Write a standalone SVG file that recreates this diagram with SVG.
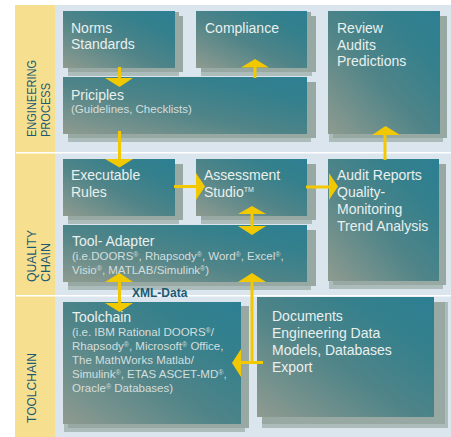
<svg xmlns="http://www.w3.org/2000/svg" width="451" height="437" viewBox="0 0 451 437">
<style>
text{font-family:"Liberation Sans",Arial,sans-serif}
.t{fill:#e9f0ee;font-size:14px}
.s{fill:#d4dedd;font-size:11.5px}
.v{fill:#1c5a72;font-size:12px}
.sh1{fill:#abbcbb}
.sh2{fill:#98a8a2}
.box{fill:url(#g)}
.a{fill:#f2c900}
.l{stroke:#f2c900;stroke-width:3;fill:none}
</style>
<defs>
<linearGradient id="g" x1="0" y1="1" x2="1" y2="0">
<stop offset="0" stop-color="#8f9b90"/>
<stop offset="0.45" stop-color="#4f8488"/>
<stop offset="0.75" stop-color="#35808c"/>
<stop offset="1" stop-color="#2c7f93"/>
</linearGradient>
</defs>
<rect width="451" height="437" fill="#fff"/>
<rect x="15" y="5" width="436" height="432" fill="#dae5ed"/>
<rect x="15" y="5" width="40" height="432" fill="#f6e08f"/>
<rect x="16" y="152" width="435" height="1.5" fill="#fff"/>
<rect x="16" y="295" width="435" height="1.500" fill="#fff"/>
<g id="label-engineering"><text class="v" textLength="77" lengthAdjust="spacingAndGlyphs" transform="translate(35.500,137) rotate(-90)">ENGINEERING</text><text class="v" textLength="54" lengthAdjust="spacingAndGlyphs" transform="translate(50,137) rotate(-90)">PROCESS</text></g>
<g id="label-quality"><text class="v" textLength="52" lengthAdjust="spacingAndGlyphs" transform="translate(35.500,282) rotate(-90)">QUALITY</text><text class="v" textLength="39" lengthAdjust="spacingAndGlyphs" transform="translate(50,282) rotate(-90)">CHAIN</text></g>
<g id="label-toolchain"><text class="v" textLength="70" lengthAdjust="spacingAndGlyphs" transform="translate(35.500,423) rotate(-90)">TOOLCHAIN</text></g>
<g id="norms"><rect class="sh1" x="68" y="16" width="111" height="60"/><rect class="sh2" x="68" y="16" width="115" height="56"/><rect class="sh2" x="175" y="12" width="4" height="5"/><rect class="box" x="63" y="11" width="112" height="57"/><text class="t" x="71" y="33">Norms</text><text class="t" x="71" y="49">Standards</text></g>
<g id="compliance"><rect class="sh1" x="201" y="16" width="111" height="60"/><rect class="sh2" x="201" y="16" width="115" height="56"/><rect class="sh2" x="307" y="12" width="4" height="5"/><rect class="box" x="196" y="11" width="111" height="57"/><text class="t" x="205" y="33">Compliance</text></g>
<g id="principles"><rect class="sh1" x="68" y="82" width="243" height="60"/><rect class="sh2" x="68" y="82" width="248" height="56"/><rect class="box" x="63" y="77" width="244" height="57"/><text class="t" x="71" y="100">Priciples</text><text class="s" x="71" y="113">(Guidelines, Checklists)</text></g>
<g id="review"><rect class="sh1" x="329" y="16" width="114" height="126"/><rect class="sh2" x="333" y="16" width="114" height="122"/><rect class="box" x="328" y="11" width="112" height="123"/><text class="t" x="337" y="33">Review</text><text class="t" x="337" y="50">Audits</text><text class="t" x="337" y="66">Predictions</text></g>
<g id="executable"><rect class="sh1" x="68" y="164" width="111" height="60"/><rect class="sh2" x="68" y="164" width="115" height="56"/><rect class="box" x="63" y="159" width="112" height="57"/><text class="t" x="71" y="180">Executable</text><text class="t" x="71" y="197">Rules</text></g>
<g id="assessment"><rect class="sh1" x="201" y="164" width="111" height="60"/><rect class="sh2" x="201" y="164" width="115" height="56"/><rect class="box" x="196" y="159" width="111" height="57"/><text class="t" x="204" y="180">Assessment</text><text class="t" x="204" y="197">Studio<tspan font-size="7" dy="-5">TM</tspan></text></g>
<g id="audit"><rect class="sh1" x="329" y="164" width="114" height="125"/><rect class="sh2" x="333" y="164" width="113" height="121"/><rect class="box" x="328" y="159" width="111" height="122"/><text class="t" x="337" y="180">Audit Reports</text><text class="t" x="337" y="197">Quality-</text><text class="t" x="337" y="214">Monitoring</text><text class="t" x="337" y="231">Trend Analysis</text></g>
<g id="adapter"><rect class="sh1" x="68" y="230" width="243" height="60"/><rect class="sh2" x="68" y="230" width="248" height="56"/><rect class="box" x="63" y="225" width="244" height="57"/><text class="t" x="72" y="246">Tool- Adapter</text><text class="s" x="72" y="260">(i.e.DOORS<tspan font-size="7" dy="-3">®</tspan><tspan dy="3">, Rhapsody</tspan><tspan font-size="7" dy="-3">®</tspan><tspan dy="3">, Word</tspan><tspan font-size="7" dy="-3">®</tspan><tspan dy="3">, Excel</tspan><tspan font-size="7" dy="-3">®</tspan><tspan dy="3">,</tspan></text><text class="s" x="72" y="274">Visio<tspan font-size="7" dy="-3">®</tspan><tspan dy="3">, MATLAB/Simulink</tspan><tspan font-size="7" dy="-3">®</tspan><tspan dy="3">)</tspan></text></g>
<g id="toolchain"><rect class="sh1" x="64" y="306" width="181" height="126"/><rect class="sh2" x="68" y="306" width="181" height="122"/><rect class="box" x="63" y="302" width="178" height="122"/><text class="t" x="72" y="322">Toolchain</text><text class="s" x="72" y="336">(i.e. IBM Rational DOORS<tspan font-size="7" dy="-3">®</tspan><tspan dy="3">/</tspan></text><text class="s" x="72" y="350">Rhapsody<tspan font-size="7" dy="-3">®</tspan><tspan dy="3">, Microsoft</tspan><tspan font-size="7" dy="-3">®</tspan><tspan dy="3"> Office,</tspan></text><text class="s" x="72" y="364">The MathWorks Matlab/</text><text class="s" x="72" y="378">Simulink<tspan font-size="7" dy="-3">®</tspan><tspan dy="3">, ETAS ASCET-MD</tspan><tspan font-size="7" dy="-3">®</tspan><tspan dy="3">,</tspan></text><text class="s" x="72" y="392">Oracle<tspan font-size="7" dy="-3">®</tspan><tspan dy="3"> Databases)</tspan></text></g>
<g id="documents"><rect class="sh1" x="262" y="302" width="186" height="126"/><rect class="sh2" x="262" y="302" width="183" height="122"/><rect class="box" x="257" y="297" width="177" height="120"/><text class="t" x="272" y="321">Documents</text><text class="t" x="272" y="338">Engineering Data</text><text class="t" x="272" y="355">Models, Databases</text><text class="t" x="272" y="372">Export</text></g>
<text id="xml-label" x="132" y="297" font-size="12" font-weight="bold" fill="#1c5a72">XML-Data</text>
<g id="connectors">
<path class="l" d="M119.5 67V79"/><polygon class="a" points="105,78 133,78 119.5,87"/>
<path class="l" d="M119.5 131V160"/><polygon class="a" points="105,159 133,159 119.5,167.5"/>
<path class="l" d="M255 78V66"/><polygon class="a" points="241,67.500 269,67.500 255,59"/>
<path class="l" d="M385 160V134"/><polygon class="a" points="372,135 400,135 385.500,126"/>
<path class="l" d="M174 186.500H198"/><polygon class="a" points="196,173 196,200 205,186.500"/>
<path class="l" d="M306 187H330"/><polygon class="a" points="329,173 329,200 338,186.500"/>
<path class="l" d="M252 213V227"/><polygon class="a" points="238,214 266,214 252,206"/><polygon class="a" points="238,226 266,226 252,235"/>
<path class="l" d="M119.500 281V304"/><polygon class="a" points="105,282 133,282 119.500,273"/><polygon class="a" points="105,303 133,303 119.500,312"/>
<path class="l" d="M252 281V362.500H263M252 362.500H240"/><polygon class="a" points="238,282 266,282 252,273"/><polygon class="a" points="241,349 241,377 232,363"/>
</g>
</svg>
